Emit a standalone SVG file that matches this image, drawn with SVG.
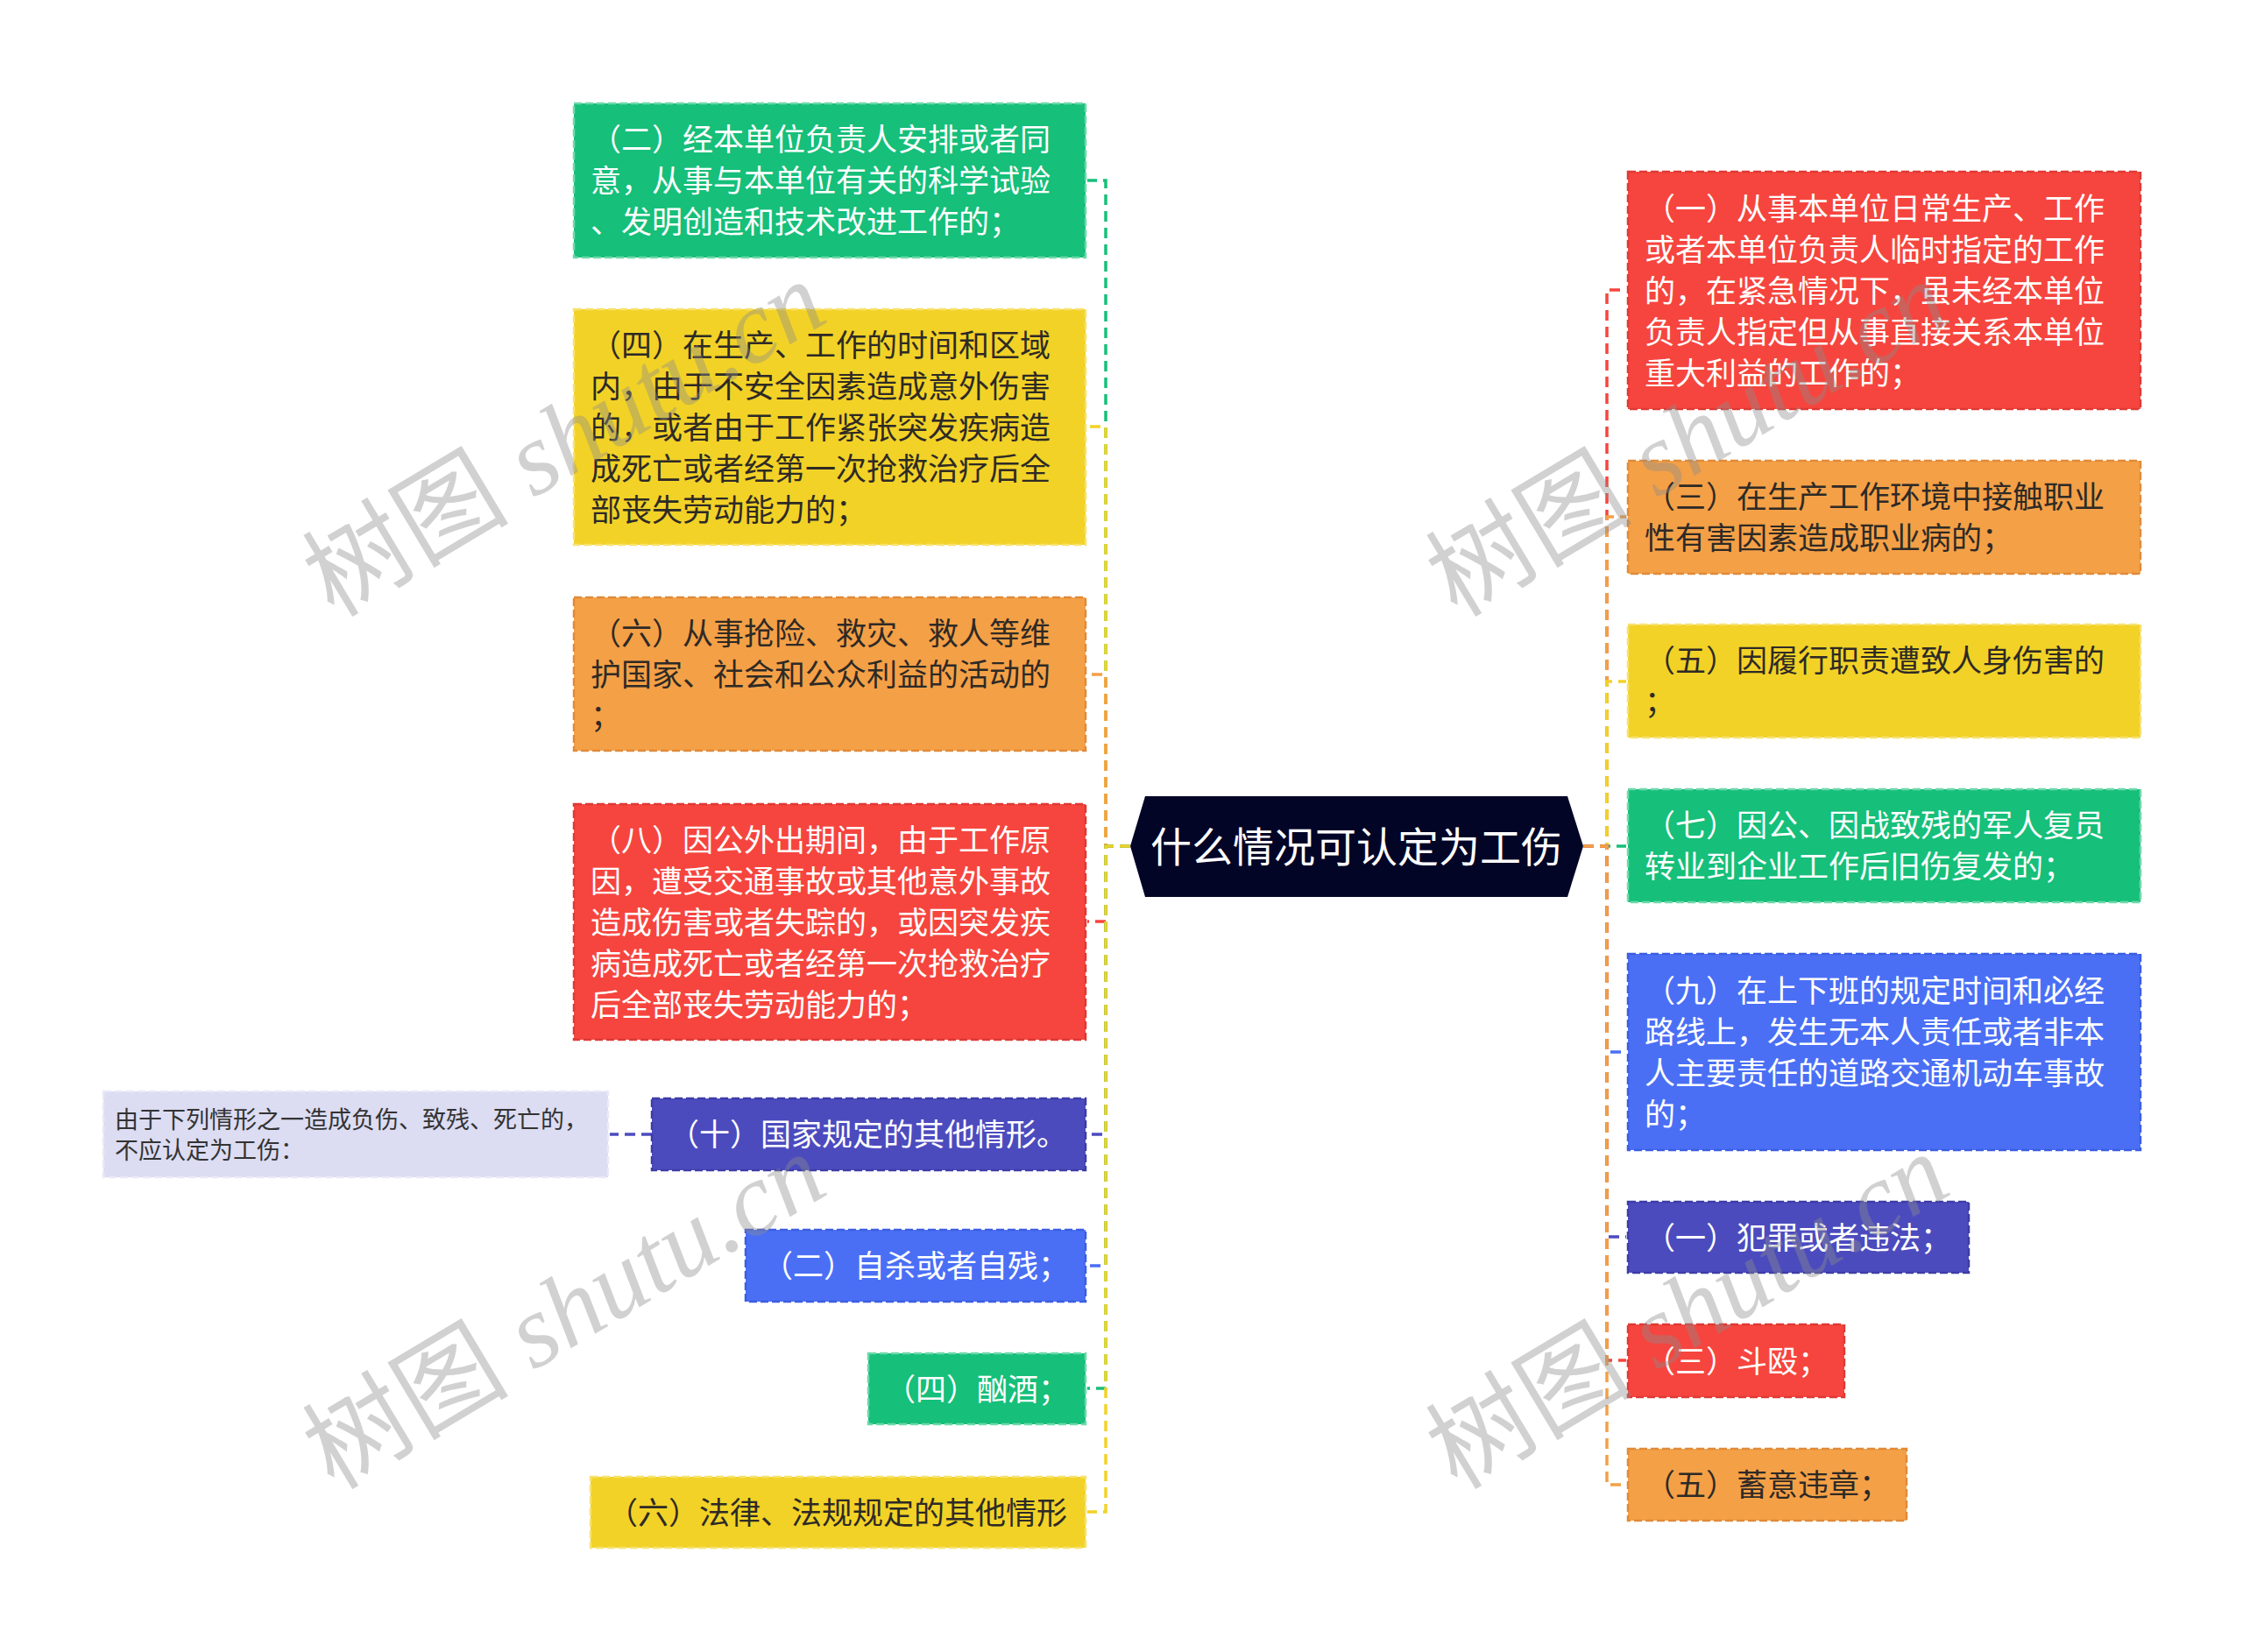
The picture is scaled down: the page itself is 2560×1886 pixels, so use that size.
<svg xmlns="http://www.w3.org/2000/svg" width="2560" height="1886" viewBox="0 0 2560 1886">
<style>
  .t { font-family: "Noto Sans CJK SC", "Noto Sans", sans-serif; font-size: 35px; }
  .w { fill: #ffffff; }
  .d { fill: #2e2a26; }
  .box { stroke-width: 2.5; stroke-dasharray: 9 4; }
  .green { fill: #16bf7a; stroke: #6fd9aa; }
  .yellow { fill: #f2d227; stroke: #f7e170; }
  .orange { fill: #f4a047; stroke: #e08a3a; }
  .red { fill: #f6453e; stroke: #dd3a35; }
  .blue { fill: #4a6ff5; stroke: #3c5ee0; }
  .purple { fill: #4c4bbe; stroke: #3d3ca6; }
  .lav { fill: #dcdcf2; stroke: #e9e9f8; }
  .c { fill: none; stroke-width: 3.5; stroke-dasharray: 12 7; }
  .wm { fill: #8c8c8c; fill-opacity: 0.4; font-size: 118px; }
</style>

<!-- connectors -->
<g id="connectors">
  <path class="c" stroke="#16bf7a" d="M1290 966 H1262 V206 H1241"/>
  <path class="c" stroke="#f2d227" d="M1290 966 H1262 V487 H1241"/>
  <path class="c" stroke="#f4a047" d="M1290 966 H1262 V770 H1241"/>
  <path class="c" stroke="#f6453e" d="M1290 966 H1262 V1052 H1241"/>
  <path class="c" stroke="#4c4bbe" d="M1290 966 H1262 V1295 H1241"/>
  <path class="c" stroke="#4a6ff5" d="M1290 966 H1262 V1445 H1241"/>
  <path class="c" stroke="#16bf7a" d="M1290 966 H1262 V1585 H1241"/>
  <path class="c" stroke="#f2d227" d="M1290 966 H1262 V1726 H1241"/>
  <path class="c" stroke="#4c4bbe" d="M744 1295 H696"/>

  <path class="c" stroke="#f6453e" d="M1807 966 H1834 V331 H1856"/>
  <path class="c" stroke="#f4a047" d="M1807 966 H1834 V590 H1856"/>
  <path class="c" stroke="#f2d227" d="M1807 966 H1834 V778 H1856"/>
  <path class="c" stroke="#16bf7a" d="M1807 966 H1834 V966 H1856"/>
  <path class="c" stroke="#4a6ff5" d="M1807 966 H1834 V1201 H1856"/>
  <path class="c" stroke="#4c4bbe" d="M1807 966 H1834 V1412 H1856"/>
  <path class="c" stroke="#f6453e" d="M1807 966 H1834 V1553 H1856"/>
  <path class="c" stroke="#f4a047" d="M1807 966 H1834 V1695 H1856"/>
</g>

<!-- root -->
<g id="root">
  <polygon points="1290,966 1307,909 1789,909 1807,966 1789,1024 1307,1024" fill="#030527"/>
  <text x="1548" y="984" text-anchor="middle" font-family="Noto Sans CJK SC, sans-serif" font-size="47" fill="#ffffff">什么情况可认定为工伤</text>
</g>

<!-- left nodes -->
<g id="L1">
  <rect class="box green" x="655" y="118" width="584" height="176"/>
  <text class="t w"><tspan x="674" y="172">（二）经本单位负责人安排或者同</tspan><tspan x="674" y="219">意，从事与本单位有关的科学试验</tspan><tspan x="674" y="266">、发明创造和技术改进工作的；</tspan></text>
</g>
<g id="L2">
  <rect class="box yellow" x="655" y="353" width="584" height="269"/>
  <text class="t d"><tspan x="674" y="407">（四）在生产、工作的时间和区域</tspan><tspan x="674" y="454">内，由于不安全因素造成意外伤害</tspan><tspan x="674" y="501">的，或者由于工作紧张突发疾病造</tspan><tspan x="674" y="548">成死亡或者经第一次抢救治疗后全</tspan><tspan x="674" y="595">部丧失劳动能力的；</tspan></text>
</g>
<g id="L3">
  <rect class="box orange" x="655" y="682" width="584" height="175"/>
  <text class="t d"><tspan x="674" y="736">（六）从事抢险、救灾、救人等维</tspan><tspan x="674" y="783">护国家、社会和公众利益的活动的</tspan><tspan x="674" y="830">；</tspan></text>
</g>
<g id="L4">
  <rect class="box red" x="655" y="918" width="584" height="269"/>
  <text class="t w"><tspan x="674" y="972">（八）因公外出期间，由于工作原</tspan><tspan x="674" y="1019">因，遭受交通事故或其他意外事故</tspan><tspan x="674" y="1066">造成伤害或者失踪的，或因突发疾</tspan><tspan x="674" y="1113">病造成死亡或者经第一次抢救治疗</tspan><tspan x="674" y="1160">后全部丧失劳动能力的；</tspan></text>
</g>
<g id="L5">
  <rect class="box purple" x="744" y="1254" width="495" height="82"/>
  <text class="t w" x="763" y="1308">（十）国家规定的其他情形。</text>
</g>
<g id="L5a">
  <rect class="box lav" x="118" y="1246" width="576" height="98"/>
  <text font-family="Noto Sans CJK SC, sans-serif" font-size="27" fill="#333333"><tspan x="131" y="1288">由于下列情形之一造成负伤、致残、死亡的，</tspan><tspan x="131" y="1323">不应认定为工伤：</tspan></text>
</g>
<g id="L6">
  <rect class="box blue" x="851" y="1404" width="388" height="82"/>
  <text class="t w" x="870" y="1458">（二）自杀或者自残；</text>
</g>
<g id="L7">
  <rect class="box green" x="991" y="1545" width="248" height="81"/>
  <text class="t w" x="1010" y="1599">（四）酗酒；</text>
</g>
<g id="L8">
  <rect class="box yellow" x="674" y="1686" width="565" height="81"/>
  <text class="t d" x="693" y="1740">（六）法律、法规规定的其他情形</text>
</g>

<!-- right nodes -->
<g id="R1">
  <rect class="box red" x="1858" y="196" width="585" height="271"/>
  <text class="t w"><tspan x="1877" y="251">（一）从事本单位日常生产、工作</tspan><tspan x="1877" y="298">或者本单位负责人临时指定的工作</tspan><tspan x="1877" y="345">的，在紧急情况下，虽未经本单位</tspan><tspan x="1877" y="392">负责人指定但从事直接关系本单位</tspan><tspan x="1877" y="439">重大利益的工作的；</tspan></text>
</g>
<g id="R2">
  <rect class="box orange" x="1858" y="526" width="585" height="129"/>
  <text class="t d"><tspan x="1877" y="580">（三）在生产工作环境中接触职业</tspan><tspan x="1877" y="627">性有害因素造成职业病的；</tspan></text>
</g>
<g id="R3">
  <rect class="box yellow" x="1858" y="713" width="585" height="129"/>
  <text class="t d"><tspan x="1877" y="767">（五）因履行职责遭致人身伤害的</tspan><tspan x="1877" y="814">；</tspan></text>
</g>
<g id="R4">
  <rect class="box green" x="1858" y="901" width="585" height="129"/>
  <text class="t w"><tspan x="1877" y="955">（七）因公、因战致残的军人复员</tspan><tspan x="1877" y="1002">转业到企业工作后旧伤复发的；</tspan></text>
</g>
<g id="R5">
  <rect class="box blue" x="1858" y="1089" width="585" height="224"/>
  <text class="t w"><tspan x="1877" y="1144">（九）在上下班的规定时间和必经</tspan><tspan x="1877" y="1191">路线上，发生无本人责任或者非本</tspan><tspan x="1877" y="1238">人主要责任的道路交通机动车事故</tspan><tspan x="1877" y="1285">的；</tspan></text>
</g>
<g id="R6">
  <rect class="box purple" x="1858" y="1372" width="389" height="81"/>
  <text class="t w" x="1877" y="1426">（一）犯罪或者违法；</text>
</g>
<g id="R7">
  <rect class="box red" x="1858" y="1512" width="247" height="83"/>
  <text class="t w" x="1877" y="1567">（三）斗殴；</text>
</g>
<g id="R8">
  <rect class="box orange" x="1858" y="1654" width="318" height="82"/>
  <text class="t d" x="1877" y="1708">（五）蓄意违章；</text>
</g>

<!-- watermarks -->
<g id="watermarks">
  <text class="wm" transform="translate(381,706) rotate(-31)"><tspan font-family="Noto Sans CJK SC, sans-serif">树图</tspan><tspan font-family="Liberation Serif, serif" font-style="italic"> shutu.cn</tspan></text>
  <text class="wm" transform="translate(381,1702) rotate(-31)"><tspan font-family="Noto Sans CJK SC, sans-serif">树图</tspan><tspan font-family="Liberation Serif, serif" font-style="italic"> shutu.cn</tspan></text>
  <text class="wm" transform="translate(1663,706) rotate(-31)"><tspan font-family="Noto Sans CJK SC, sans-serif">树图</tspan><tspan font-family="Liberation Serif, serif" font-style="italic"> shutu.cn</tspan></text>
  <text class="wm" transform="translate(1663,1702) rotate(-31)"><tspan font-family="Noto Sans CJK SC, sans-serif">树图</tspan><tspan font-family="Liberation Serif, serif" font-style="italic"> shutu.cn</tspan></text>
</g>
</svg>
